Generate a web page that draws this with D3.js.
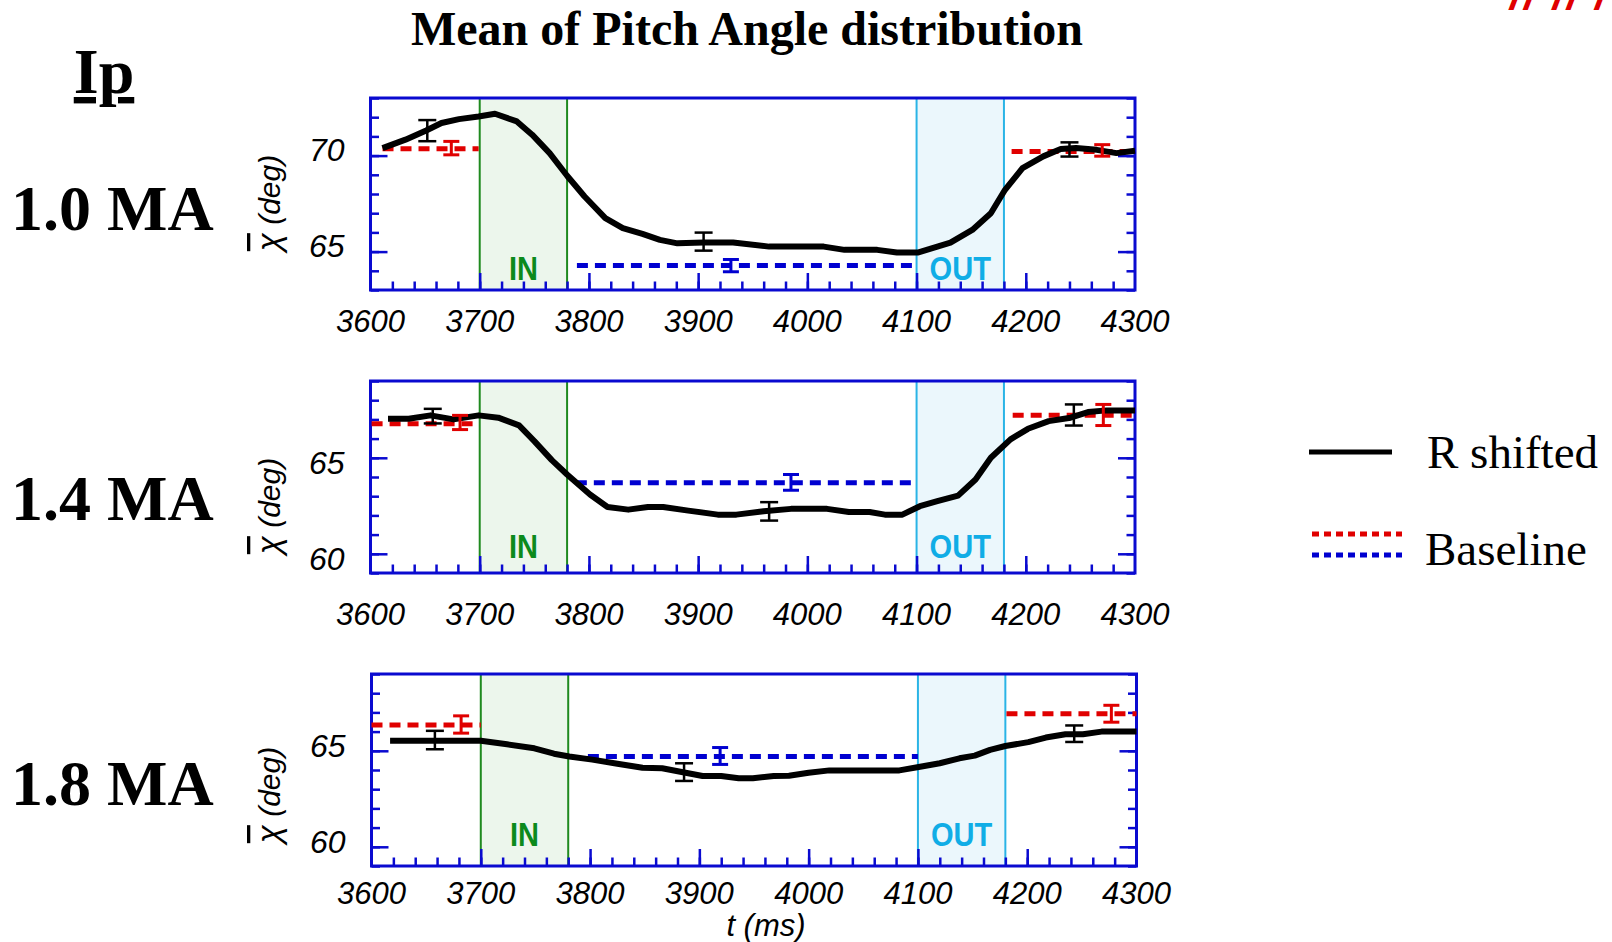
<html>
<head>
<script src="https://d3js.org/d3.v7.min.js"></script>
<style>
  body { margin: 0; background: #fff; }
  text { font-family: "Liberation Sans", Arial, sans-serif; }
  .serif { font-family: "Liberation Serif", "Times New Roman", serif; font-weight: bold; }
</style>
</head>
<body>
<svg id="chart" width="1612" height="942"></svg>
<script>
// ---- data ----
const timeTicks = [3600, 3700, 3800, 3900, 4000, 4100, 4200, 4300];
const currents = ["1.0 MA", "1.4 MA", "1.8 MA"];
const yDomains = [[63, 73], [59, 69], [59, 69]];
const yLabelTicks = [[65, 70], [60, 65], [60, 65]];
const inWindow = [3700, 3780];
const outWindow = [4100, 4180];

// R shifted: [t (ms), mean pitch angle (deg)]
const rShifted10 = [
  [3611, 70.39], [3632, 70.83], [3651, 71.31], [3665, 71.7], [3681, 71.9], [3699, 72.04],
  [3714, 72.18], [3734, 71.78], [3748, 71.09], [3764, 70.13], [3780, 68.95], [3796, 67.87],
  [3815, 66.74], [3831, 66.22], [3849, 65.92], [3865, 65.61], [3881, 65.43], [3905, 65.47],
  [3932, 65.47], [3965, 65.26], [3992, 65.26], [4015, 65.26], [4034, 65.09], [4064, 65.09],
  [4082, 64.95], [4101, 64.95], [4131, 65.47], [4151, 66.13], [4168, 67.0], [4181, 68.22],
  [4197, 69.35], [4216, 69.96], [4232, 70.34], [4246, 70.39], [4265, 70.3], [4283, 70.13],
  [4300, 70.25]
];
const rShifted14 = [
  [3616, 67.03], [3635, 67.03], [3655, 67.21], [3676, 67.0], [3699, 67.21], [3717, 67.09],
  [3736, 66.69], [3750, 65.87], [3766, 64.88], [3780, 64.13], [3801, 63.09], [3817, 62.44],
  [3836, 62.3], [3854, 62.44], [3868, 62.44], [3891, 62.25], [3918, 62.04], [3935, 62.04],
  [3960, 62.22], [3985, 62.34], [4018, 62.34], [4038, 62.18], [4057, 62.18], [4071, 62.04],
  [4087, 62.04], [4103, 62.48], [4119, 62.74], [4138, 63.03], [4154, 63.87], [4168, 65.0],
  [4186, 65.96], [4202, 66.51], [4221, 66.91], [4241, 67.09], [4257, 67.38], [4274, 67.47],
  [4300, 67.47]
];
const rShifted18 = [
  [3617, 65.52], [3659, 65.52], [3700, 65.52], [3724, 65.34], [3749, 65.13], [3767, 64.85],
  [3781, 64.7], [3802, 64.54], [3825, 64.33], [3848, 64.12], [3866, 64.09], [3885, 63.88],
  [3903, 63.69], [3920, 63.69], [3936, 63.57], [3949, 63.57], [3968, 63.69], [3982, 63.7],
  [4000, 63.86], [4019, 63.98], [4083, 63.98], [4102, 64.17], [4120, 64.35], [4138, 64.61],
  [4152, 64.75], [4166, 65.05], [4180, 65.25], [4201, 65.45], [4217, 65.69], [4235, 65.86],
  [4251, 65.86], [4268, 66.0], [4300, 66.0]
];
// error bars on R shifted: [t, value, half width]
const rErr10 = [[3652, 71.3, 0.55], [3905, 65.52, 0.47], [4240, 70.32, 0.37]];
const rErr14 = [[3657, 67.17, 0.38], [3965, 62.21, 0.48], [4244, 67.23, 0.55]];
const rErr18 = [[3658, 65.56, 0.48], [3886, 63.89, 0.46], [4243, 65.89, 0.43]];

// baseline segments: [t start, t end, value]; before/after in red, between in blue
const baseRed10 = [[3611, 3699, 70.36], [4187, 4300, 70.22]];
const baseRed14 = [[3601, 3699, 66.77], [4188, 4300, 67.21]];
const baseRed18 = [[3600, 3700, 66.35], [4181, 4300, 66.93]];
const baseBlue10 = [[3789, 4101, 64.27]];
const baseBlue14 = [[3788, 4101, 63.7]];
const baseBlue18 = [[3798, 4100, 64.7]];
const baseRedErr10 = [[3674, 70.39, 0.35], [4270, 70.27, 0.3]];
const baseRedErr14 = [[3682, 66.84, 0.37], [4271, 67.23, 0.55]];
const baseRedErr18 = [[3682, 66.37, 0.45], [4277, 66.93, 0.44]];
const baseBlueErr10 = [[3930, 64.27, 0.32]];
const baseBlueErr14 = [[3985, 63.72, 0.41]];
const baseBlueErr18 = [[3919, 64.73, 0.44]];

// ---- layout ----
const layout = [
  { top: 98, left: 370.5, right: 1135, tickLabelDy: 42, yLabelDy: 5, boxLabelDy: 10, yTitleY: 203, nameY: 230 },
  { top: 381, left: 370.5, right: 1135, tickLabelDy: 52, yLabelDy: 16, boxLabelDy: 15, yTitleY: 506, nameY: 520 },
  { top: 674, left: 371.5, right: 1136.5, tickLabelDy: 38, yLabelDy: 6, boxLabelDy: 20, yTitleY: 795, nameY: 805 }
];
const panelH = 192;

const panels = currents.map((name, i) => ({
  name,
  yDomain: yDomains[i],
  yLabels: yLabelTicks[i],
  r: [rShifted10, rShifted14, rShifted18][i],
  rErr: [rErr10, rErr14, rErr18][i],
  red: [baseRed10, baseRed14, baseRed18][i],
  blue: [baseBlue10, baseBlue14, baseBlue18][i],
  redErr: [baseRedErr10, baseRedErr14, baseRedErr18][i],
  blueErr: [baseBlueErr10, baseBlueErr14, baseBlueErr18][i],
  ...layout[i]
}));

const AXIS = "#0a0ad0";
const RED = "#e00000";
const BLUE = "#0000d0";

const svg = d3.select("#chart");

// title and left labels
svg.append("text").attr("class", "serif")
  .attr("x", 747).attr("y", 45).attr("text-anchor", "middle")
  .style("font-size", "48px").text("Mean of Pitch Angle distribution");

svg.append("text").attr("class", "serif")
  .attr("x", 104).attr("y", 93).attr("text-anchor", "middle")
  .style("font-size", "64px").style("text-decoration", "underline").text("Ip");

// red marks clipped by the top right corner, as in the source slide
svg.append("text")
  .attr("x", 1510).attr("y", 9)
  .style("font-size", "44px").style("font-style", "italic").style("font-weight", "bold")
  .style("letter-spacing", "2px")
  .attr("fill", RED).text("//   //  /");

panels.forEach((p) => {
  const x = d3.scaleLinear().domain([3600, 4300]).range([p.left, p.right]);
  const y = d3.scaleLinear().domain(p.yDomain).range([p.top + panelH, p.top]);
  const g = svg.append("g");

  // IN / OUT windows
  g.append("rect")
    .attr("x", x(inWindow[0])).attr("y", p.top)
    .attr("width", x(inWindow[1]) - x(inWindow[0])).attr("height", panelH)
    .attr("fill", "#ecf6ec").attr("stroke", "#1f8a1f").attr("stroke-width", 2);
  g.append("rect")
    .attr("x", x(outWindow[0])).attr("y", p.top)
    .attr("width", x(outWindow[1]) - x(outWindow[0])).attr("height", panelH)
    .attr("fill", "#ebf7fc").attr("stroke", "#2ab4e6").attr("stroke-width", 2);

  // inward ticks
  const minorX = d3.range(3620, 4300, 20);
  const minorY = d3.range(Math.ceil(p.yDomain[0]), p.yDomain[1] + 0.001, 1);
  const bottom = p.top + panelH;

  g.append("g").attr("transform", `translate(0,${bottom})`)
    .call(d3.axisBottom(x).tickValues(minorX).tickSize(-8.5).tickFormat("").tickSizeOuter(0));
  g.append("g").attr("transform", `translate(0,${bottom})`)
    .call(d3.axisBottom(x).tickValues(timeTicks.slice(1, -1)).tickSize(-17).tickFormat("").tickSizeOuter(0));
  [[p.left, d3.axisLeft], [p.right, d3.axisRight]].forEach(([px, ax]) => {
    g.append("g").attr("transform", `translate(${px},0)`)
      .call(ax(y).tickValues(minorY).tickSize(-8.5).tickFormat("").tickSizeOuter(0));
    g.append("g").attr("transform", `translate(${px},0)`)
      .call(ax(y).tickValues(p.yLabels).tickSize(-17).tickFormat("").tickSizeOuter(0));
  });
  g.selectAll(".domain").remove();
  g.selectAll(".tick line").attr("stroke", AXIS).attr("stroke-width", 2.5);

  // frame
  g.append("rect")
    .attr("x", p.left).attr("y", p.top)
    .attr("width", p.right - p.left).attr("height", panelH)
    .attr("fill", "none").attr("stroke", AXIS).attr("stroke-width", 3);

  // tick labels
  g.selectAll(".xl").data(timeTicks).join("text")
    .attr("x", (d) => x(d)).attr("y", bottom + p.tickLabelDy)
    .attr("text-anchor", "middle")
    .style("font-size", "31px").style("font-style", "italic")
    .text((d) => d);
  g.selectAll(".yl").data(p.yLabels).join("text")
    .attr("x", p.left - 26).attr("y", (d) => y(d) + p.yLabelDy)
    .attr("text-anchor", "end")
    .style("font-size", "32px").style("font-style", "italic")
    .text((d) => d);

  // window labels (narrow bold face)
  const boxLabel = (t0t1, txt, color) => {
    g.append("text")
      .attr("transform", `translate(${x(d3.mean(t0t1))},${bottom - p.boxLabelDy}) scale(0.88,1)`)
      .attr("text-anchor", "middle").attr("fill", color)
      .style("font-size", "33px").style("font-weight", "bold").text(txt);
  };
  boxLabel(inWindow, "IN", "#0c8a1c");
  boxLabel(outWindow, "OUT", "#10ade6");

  // baselines
  const dashed = (segs, color) => {
    g.selectAll(null).data(segs).join("line")
      .attr("x1", (d) => x(d[0])).attr("x2", (d) => x(d[1]))
      .attr("y1", (d) => y(d[2])).attr("y2", (d) => y(d[2]))
      .attr("stroke", color).attr("stroke-width", 5).attr("stroke-dasharray", "11,7");
  };
  dashed(p.red, RED);
  dashed(p.blue, BLUE);

  const errBars = (pts, color, w, cap) => {
    const eg = g.append("g").attr("stroke", color).attr("stroke-width", w);
    pts.forEach((d) => {
      eg.append("line").attr("x1", x(d[0])).attr("x2", x(d[0]))
        .attr("y1", y(d[1] - d[2])).attr("y2", y(d[1] + d[2]));
      [d[1] - d[2], d[1] + d[2]].forEach((v) => {
        eg.append("line").attr("x1", x(d[0]) - cap / 2).attr("x2", x(d[0]) + cap / 2)
          .attr("y1", y(v)).attr("y2", y(v));
      });
    });
  };

  // R shifted curve
  g.append("path").datum(p.r)
    .attr("d", d3.line().x((d) => x(d[0])).y((d) => y(d[1])))
    .attr("fill", "none").attr("stroke", "#000").attr("stroke-width", 6)
    .attr("stroke-linejoin", "round");

  errBars(p.rErr, "#000", 2.5, 18);
  errBars(p.redErr, RED, 3, 16);
  errBars(p.blueErr, BLUE, 3, 16);

  // y title
  const yt = svg.append("text")
    .attr("transform", `translate(280,${p.yTitleY}) rotate(-90)`)
    .attr("text-anchor", "middle")
    .style("font-size", "30px").style("font-style", "italic");
  yt.append("tspan").style("text-decoration", "overline").style("font-size", "33px").text("\u03c7");
  yt.append("tspan").text(" (deg)");

  // current label
  svg.append("text").attr("class", "serif")
    .attr("x", 11).attr("y", p.nameY)
    .style("font-size", "64px").text(p.name);
});

svg.append("text")
  .attr("x", 766).attr("y", 936).attr("text-anchor", "middle")
  .style("font-size", "31px").style("font-style", "italic").text("t (ms)");

// legend
const legend = svg.append("g");
legend.append("line").attr("x1", 1309).attr("x2", 1392).attr("y1", 452).attr("y2", 452)
  .attr("stroke", "#000").attr("stroke-width", 5);
[[534, RED], [555, BLUE]].forEach(([ly, c]) => {
  legend.append("line").attr("x1", 1312).attr("x2", 1402).attr("y1", ly).attr("y2", ly)
    .attr("stroke", c).attr("stroke-width", 5).attr("stroke-dasharray", "7,5");
});
legend.append("text").attr("class", "serif").style("font-weight", "normal")
  .attr("x", 1427).attr("y", 468).style("font-size", "47px").text("R shifted");
legend.append("text").attr("class", "serif").style("font-weight", "normal")
  .attr("x", 1425).attr("y", 565).style("font-size", "47px").text("Baseline");
</script>
</body>
</html>
